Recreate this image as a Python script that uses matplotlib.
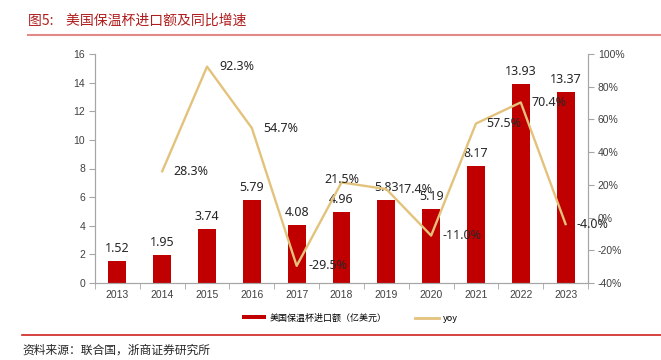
import numpy as np
import matplotlib.pyplot as plt
from matplotlib.lines import Line2D
from matplotlib.patches import Patch
from matplotlib.ticker import FuncFormatter

plt.rcParams['font.family'] = ['Noto Sans CJK SC', 'DejaVu Sans']

# 数据
years = ['2013', '2014', '2015', '2016', '2017', '2018', '2019', '2020', '2021', '2022', '2023']
imports = [1.52, 1.95, 3.74, 5.79, 4.08, 4.96, 5.83, 5.19, 8.17, 13.93, 13.37]
yoy = [np.nan, 28.3, 92.3, 54.7, -29.5, 21.5, 17.4, -11.0, 57.5, 70.4, -4.0]
# 标签水平偏移（像素）
yoy_dx = [0, 29, 30, 29, 31, 0, 29, 31, 28, 28, 27]

bar_color = "#c00000"
line_color = "#e3c27c"
spine_color = "#a6a6a6"

fig = plt.figure(figsize=(6.61, 3.6), dpi=100, facecolor="white")
ax1 = fig.add_axes([95/661, 1-283/360, 493/661, 229/360])
ax2 = ax1.twinx()

x = np.arange(len(years))
ax1.bar(x, imports, width=0.4, color=bar_color, zorder=2)
for xi, v in zip(x, imports):
    ax1.annotate('%.2f' % v, (xi, v), xytext=(0, 9), textcoords='offset points',
                 ha='center', va='center', fontsize=9, family='Noto Sans', color='#262626')

ax2.plot(x, yoy, color=line_color, lw=1.7, zorder=3)
for xi, v, dx in zip(x, yoy, yoy_dx):
    if np.isnan(v):
        continue
    dy = 2 if dx == 0 else 0
    ax2.annotate('%.1f%%' % v, (xi, v), xytext=(dx*0.72, dy), textcoords='offset points',
                 ha='center', va='center', fontsize=9, family='Noto Sans', color='#262626')

ax1.set_xlim(-0.5, len(years) - 0.5)
ax1.set_ylim(0, 16)
ax1.set_yticks(np.arange(0, 17, 2))
ax2.set_ylim(-40, 100)
ax2.set_yticks(np.arange(-40, 101, 20))
ax2.yaxis.set_major_formatter(FuncFormatter(lambda v, p: '%d%%' % v))

ax1.set_xticks(x)
ax1.set_xticklabels(years)
ax1.set_xticks(np.arange(-0.5, len(years), 1), minor=True)
ax1.tick_params(axis='x', which='major', length=0, pad=5)
ax1.tick_params(axis='x', which='minor', length=4, color=spine_color)

for ax in (ax1, ax2):
    ax.spines['top'].set_visible(False)
    for s in ('left', 'right', 'bottom'):
        ax.spines[s].set_color(spine_color)
    ax.tick_params(axis='y', length=4, color=spine_color, labelsize=7.5, pad=3)
    for lbl in ax.get_xticklabels() + ax.get_yticklabels():
        lbl.set_family('Liberation Sans')
        lbl.set_fontsize(7.5)
        lbl.set_color('#404040')

# 图例
handles = [Patch(facecolor=bar_color, edgecolor='none'),
           Line2D([], [], color=line_color, lw=2)]
leg = fig.legend(handles, ['美国保温杯进口额（亿美元）', 'yoy'], loc='center',
                 bbox_to_anchor=(350/661, 1-318/360), ncol=2, frameon=False,
                 fontsize=6.5, handlelength=2.6, handleheight=0.35,
                 handletextpad=0.4, columnspacing=3.2)

# 标题与来源
fig.text(28/661, 1-21/360, '图5:    美国保温杯进口额及同比增速', color='#b01c1c',
         fontsize=10, ha='left', va='center')
fig.add_artist(Line2D([28/661, 1], [1-35/360, 1-35/360], color='#e08a8a', lw=1.5))
fig.add_artist(Line2D([22/661, 1], [1-335/360, 1-335/360], color='#d02020', lw=1.2))
fig.text(22/661, 1-350/360, '资料来源：联合国，浙商证券研究所', color='#262626',
         fontsize=8.5, ha='left', va='center')

fig.savefig('out.png', dpi=100, facecolor='white')
